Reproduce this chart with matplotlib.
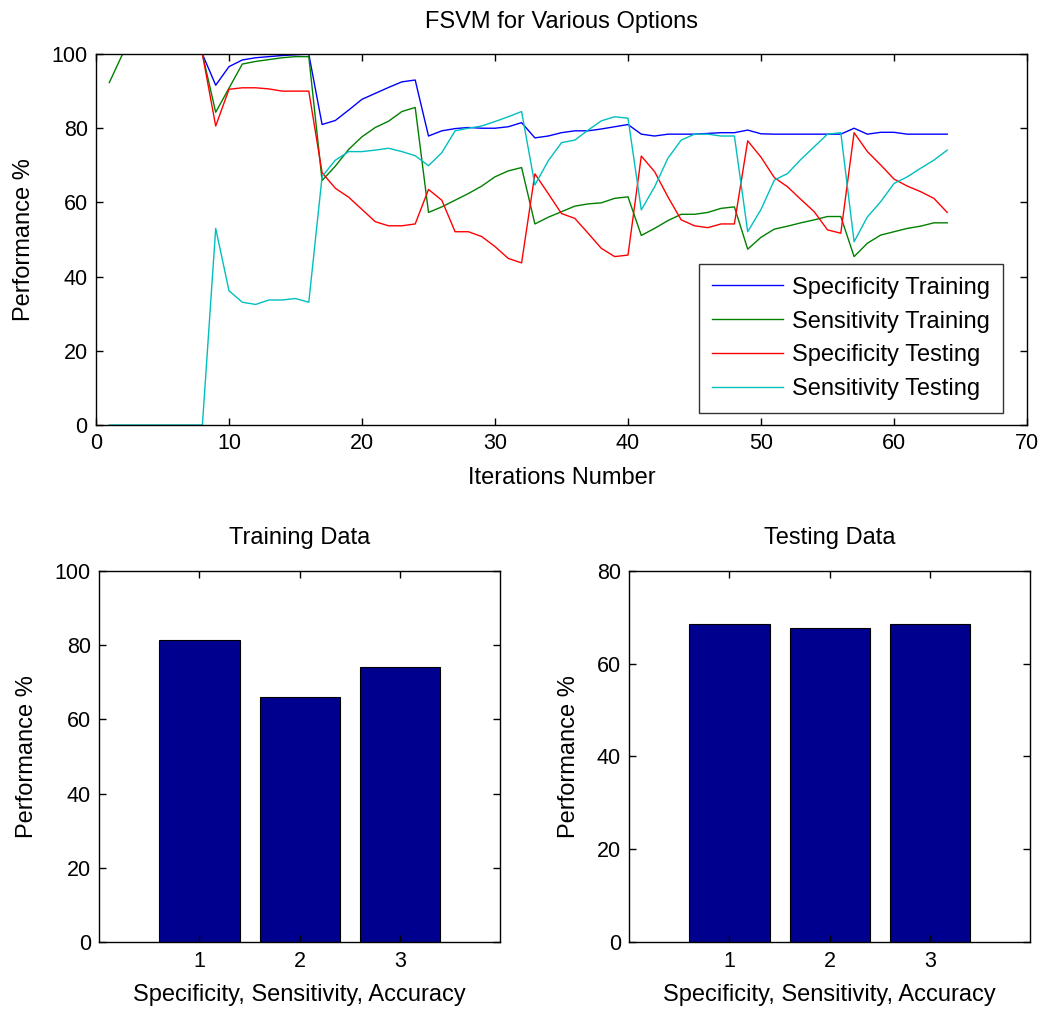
import numpy as np
import matplotlib
matplotlib.use("Agg")
import matplotlib.pyplot as plt

plt.rcParams['font.family'] = ['Liberation Sans', 'DejaVu Sans']

iterations = list(range(1, 65))

spec_train = [100, 100, 100, 100, 100, 100, 100, 100, 91.6, 96.6,
              98.4, 99.0, 99.3, 99.6, 99.8, 100, 81.0, 82.1, 84.9, 87.8,
              89.4, 91.0, 92.5, 93.0, 77.9, 79.3, 79.9, 80.2, 80.0, 80.0,
              80.4, 81.5, 77.4, 77.9, 78.8, 79.3, 79.3, 79.8, 80.4, 81.0,
              78.4, 77.9, 78.4, 78.4, 78.4, 78.6, 78.8, 78.8, 79.5, 78.5,
              78.4, 78.4, 78.4, 78.4, 78.4, 78.4, 80.0, 78.4, 78.9, 78.9,
              78.4, 78.4, 78.4, 78.4]

sens_train = [92.3, 100, 100, 100, 100, 100, 100, 100, 84.3, 90.8,
              97.3, 98.0, 98.5, 99.0, 99.3, 99.3, 65.9, 69.8, 74.3, 77.7,
              80.2, 81.9, 84.5, 85.6, 57.3, 58.8, 60.6, 62.4, 64.4, 66.9,
              68.5, 69.4, 54.2, 56.0, 57.5, 59.0, 59.6, 59.9, 61.1, 61.5,
              51.1, 53.0, 55.1, 56.8, 56.8, 57.3, 58.4, 58.8, 47.4, 50.6,
              52.8, 53.6, 54.5, 55.3, 56.2, 56.2, 45.4, 49.0, 51.2, 52.1,
              53.0, 53.6, 54.5, 54.5]

spec_test = [100, 100, 100, 100, 100, 100, 100, 100, 80.6, 90.5,
             90.9, 90.9, 90.6, 90.0, 90.0, 90.0, 68.0, 63.8, 61.4, 58.1,
             54.8, 53.7, 53.7, 54.2, 63.5, 60.6, 52.1, 52.1, 50.8, 48.1,
             44.9, 43.7, 67.7, 62.4, 57.0, 55.7, 51.7, 47.6, 45.4, 45.8,
             72.5, 68.3, 61.5, 55.3, 53.7, 53.2, 54.2, 54.2, 76.6, 72.2,
             66.7, 64.2, 60.8, 57.5, 52.6, 51.7, 78.8, 73.7, 70.1, 66.3,
             64.4, 62.9, 61.1, 57.3]

sens_test = [0, 0, 0, 0, 0, 0, 0, 0, 53.0, 36.2,
             33.1, 32.5, 33.7, 33.7, 34.1, 33.1, 67.0, 71.4, 73.7, 73.7,
             74.1, 74.6, 73.7, 72.6, 69.9, 73.4, 79.3, 80.0, 80.6, 81.8,
             83.1, 84.5, 64.7, 71.2, 76.1, 76.8, 79.5, 82.0, 83.1, 82.7,
             58.0, 64.2, 71.9, 76.8, 78.4, 78.4, 77.9, 77.9, 52.1, 58.1,
             66.0, 67.8, 71.6, 75.0, 78.4, 78.8, 49.4, 56.1, 60.2, 65.1,
             66.9, 69.2, 71.4, 74.1]

series_names = ["Specificity Training", "Sensitivity Training",
                "Specificity Testing", "Sensitivity Testing"]
series_colors = [(0, 0, 1), (0, 0.5, 0), (1, 0, 0), (0, 0.75, 0.75)]

bar_positions = [1, 2, 3]
train_perf = [81.4, 66.1, 74.0]
test_perf = [68.5, 67.6, 68.5]

TICK_FS = 15.5
LABEL_FS = 17

fig = plt.figure(figsize=(10.4, 10.1), dpi=100)


def matlab_style(ax):
    ax.tick_params(direction='in', length=5, width=1, top=True, right=True,
                   labelsize=TICK_FS, pad=6)
    for s in ax.spines.values():
        s.set_linewidth(1.0)


# Iteration curves
ax = fig.add_axes([0.0923, 0.5792, 0.8952, 0.3673])
for vals, name, col in zip([spec_train, sens_train, spec_test, sens_test],
                           series_names, series_colors):
    ax.plot(iterations, vals, color=col, lw=1.0, label=name)
ax.set_xlim(0, 70)
ax.set_ylim(0, 100)
ax.set_xticks(range(0, 71, 10))
ax.set_yticks(range(0, 101, 20))
matlab_style(ax)
ax.set_title("FSVM for Various Options", fontsize=LABEL_FS, pad=19)
ax.set_xlabel("Iterations Number", fontsize=LABEL_FS, labelpad=9)
ax.set_ylabel("Performance %", fontsize=LABEL_FS, labelpad=12)
leg = ax.legend(loc='lower right', bbox_to_anchor=(0.9742, 0.032),
                fontsize=LABEL_FS, frameon=True, fancybox=False,
                edgecolor='black', handlelength=3.0, handletextpad=0.4,
                labelspacing=0.5, borderpad=0.55, borderaxespad=0)
leg.get_frame().set_linewidth(1.0)

# Bar panels
bar_color = (0, 0, 0.5625)
panels = [
    ([0.0955, 0.0670, 0.3853, 0.3680], train_perf, "Training Data", 100),
    ([0.6051, 0.0670, 0.3853, 0.3680], test_perf, "Testing Data", 80),
]
for rect, vals, title, ymax in panels:
    bx = fig.add_axes(rect)
    bx.bar(bar_positions, vals, width=0.8, color=bar_color,
           edgecolor='black', linewidth=0.8)
    bx.set_xlim(0, 4)
    bx.set_ylim(0, ymax)
    bx.set_xticks(bar_positions)
    bx.set_yticks(range(0, ymax + 1, 20))
    matlab_style(bx)
    bx.set_title(title, fontsize=LABEL_FS, pad=19)
    bx.set_xlabel("Specificity, Sensitivity, Accuracy", fontsize=LABEL_FS,
                  labelpad=9)
    bx.set_ylabel("Performance %", fontsize=LABEL_FS, labelpad=12)

fig.savefig("out.png", dpi=100)
